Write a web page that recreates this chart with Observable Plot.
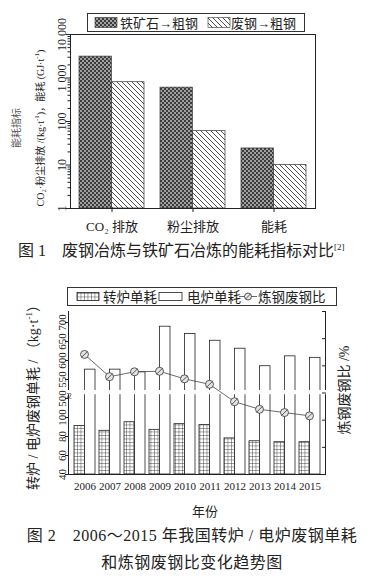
<!DOCTYPE html>
<html><head><meta charset="utf-8">
<script src="https://cdn.jsdelivr.net/npm/d3@7"></script>
<script src="https://cdn.jsdelivr.net/npm/@observablehq/plot@0.6"></script>
<style>
body{margin:0;background:#fff;}
#root{position:relative;width:384px;height:588px;overflow:hidden;font-family:"Liberation Serif","Noto Sans CJK SC",serif;color:#222;}
#root > svg, #root > div{position:absolute;}
.rot{transform:translate(-50%,-50%) rotate(-90deg);white-space:nowrap;}
</style></head><body>
<svg width="0" height="0" style="position:absolute">
<defs>
<pattern id="ore" width="4" height="4" patternUnits="userSpaceOnUse">
 <rect width="4" height="4" fill="#a0a0a0"/>
 <rect width="2" height="2" fill="#3c3c3c"/>
 <rect x="2" y="2" width="2" height="2" fill="#3c3c3c"/>
</pattern>
<pattern id="hatch" width="5" height="5" patternUnits="userSpaceOnUse">
 <rect width="5" height="5" fill="#fff"/>
 <path d="M-1,-1 L6,6 M-1,4 L1,6 M4,-1 L6,1" stroke="#222" stroke-width="0.8"/>
</pattern>
<pattern id="grid" width="3.5" height="3.5" patternUnits="userSpaceOnUse">
 <rect width="3.5" height="3.5" fill="#fff"/>
 <path d="M0,0 H3.5 M0,0 V3.5" stroke="#222" stroke-width="0.8"/>
</pattern>
</defs></svg>
<div id="root"></div>
<script>
// ---------- Figure 1 data ----------
const indicators = ["CO₂ 排放", "粉尘排放", "能耗"];
const oreToSteel = [3100, 600, 24];
const scrapToSteel = [800, 60, 10];
const logTicks = [1, 10, 100, 1000, 10000];
const logTickLabels = ["1", "10", "100", "1 000", "10 000"];
const seriesNames1 = ["铁矿石→粗钢", "废钢→粗钢"];

// ---------- Figure 2 data ----------
const years = ["2006","2007","2008","2009","2010","2011","2012","2013","2014","2015"];
const bofConsumption = [91, 86, 95, 87, 93, 92, 78, 75, 74, 74];
const eafConsumption = [576, 576, 569, 689, 670, 652, 631, 585, 611, 607];
const scrapRatio = [22.1, 18.0, 18.9, 19.0, 17.6, 16.6, 13.4, 12.0, 11.4, 10.8];
const leftTicks = [40, 60, 80, 100, 500, 550, 600, 650, 700];
const rightTicks = [0, 5, 10, 15, 20, 25, 30];
const seriesNames2 = ["转炉单耗", "电炉单耗", "炼钢废钢比"];

const FONT = '"Liberation Serif","Noto Sans CJK SC",serif';
const root = document.getElementById("root");
function place(el, left, top) { el.style.left = left + "px"; el.style.top = top + "px"; root.appendChild(el); return el; }

// ---------- Figure 1 ----------
const W1 = 384, mL1 = 70, mR1 = 69;
const pi1 = 0.2, po1 = 0.1;
const bw1 = (W1 - mL1 - mR1) / (3 - pi1 + 2 * po1) * (1 - pi1);
const minorTicks = [];
for (const k of [1, 10, 100, 1000]) for (let m = 2; m <= 9; m++) minorTicks.push(m * k);
const idx1 = d3.range(indicators.length);

const p1 = Plot.plot({
  width: W1, height: 240, marginLeft: mL1, marginRight: mR1, marginTop: 34, marginBottom: 32,
  style: {fontFamily: FONT, fontSize: "13px", color: "#222", background: "transparent", overflow: "visible"},
  x: {domain: indicators, paddingInner: pi1, paddingOuter: po1, axis: null},
  y: {type: "log", domain: [1, 10000], axis: null},
  marks: [
    Plot.barY(idx1, {x: i => indicators[i], y1: 1, y2: i => oreToSteel[i], fill: "url(#ore)", stroke: "#333", strokeWidth: 0.7, insetRight: bw1 / 2}),
    Plot.barY(idx1, {x: i => indicators[i], y1: 1, y2: i => scrapToSteel[i], fill: "url(#hatch)", stroke: "#333", strokeWidth: 0.7, insetLeft: bw1 / 2}),
    Plot.frame({stroke: "#222"}),
    Plot.axisX({tickSize: 4, tickPadding: 9, fontSize: 13, label: null}),
    Plot.axisY({ticks: minorTicks, tickSize: 2.5, tickFormat: () => "", label: null}),
    Plot.axisY({ticks: logTicks, tickSize: 4.5, tickPadding: 0, tickRotate: -90, fontSize: 12,
      tickFormat: d => logTickLabels[logTicks.indexOf(d)], label: null})
  ]
});
place(p1, 0, 0);

// legend 1
const lg1 = document.createElementNS("http://www.w3.org/2000/svg", "svg");
lg1.setAttribute("width", 384); lg1.setAttribute("height", 34);
lg1.innerHTML = `
 <rect x="87.5" y="13.5" width="217" height="18" fill="#fff" stroke="#333"/>
 <rect x="95" y="17.5" width="22" height="10" fill="url(#ore)" stroke="#333" stroke-width="0.6"/>
 <text x="120" y="27.5" font-size="13" fill="#222" font-family='${FONT}'>${seriesNames1[0]}</text>
 <rect x="208" y="17.5" width="22" height="10" fill="url(#hatch)" stroke="#333" stroke-width="0.6"/>
 <text x="231" y="27.5" font-size="13" fill="#222" font-family='${FONT}'>${seriesNames1[1]}</text>`;
place(lg1, 0, 0);

// y titles fig 1
const t1a = document.createElement("div"); t1a.className = "rot";
t1a.style.fontSize = "10px"; t1a.style.color = "#555"; t1a.textContent = "能耗指标";
place(t1a, 15, 128);
const t1b = document.createElement("div"); t1b.className = "rot";
t1b.style.fontSize = "10px"; t1b.innerHTML = "CO₂·粉尘排放 /(kg·t<sup style='font-size:7px'>-1</sup>)，能耗 (GJ·t<sup style='font-size:7px'>-1</sup>)";
place(t1b, 39, 128);

// caption 1
const c1 = document.createElement("div");
c1.style.fontSize = "16px"; c1.style.whiteSpace = "nowrap"; c1.style.lineHeight = "20px";
c1.innerHTML = "图 1　废钢冶炼与铁矿石冶炼的能耗指标对比<sup style='font-size:9px'>[2]</sup>";
place(c1, 18, 237);

// ---------- Figure 2 ----------
const W2 = 384, mL2 = 68, mR2 = 59, mT2 = 51, mB2 = 26, H2 = 240;
const pi2 = 0.18, po2 = 0.1;
const bw2 = (W2 - mL2 - mR2) / (years.length - pi2 + 2 * po2) * (1 - pi2);
const idx2 = d3.range(years.length);
// broken left axis: ticks evenly spaced, 40..100 below the break, 500..700 above
const brk = d3.scaleLinear().domain([40, 100, 500, 700]).range([0, 3, 4, 8]);
const yTop = 8.58; // axis extends a little above the 700 tick

const p2 = Plot.plot({
  width: W2, height: H2, marginLeft: mL2, marginRight: mR2, marginTop: mT2, marginBottom: mB2,
  style: {fontFamily: FONT, fontSize: "12px", color: "#222", background: "transparent", overflow: "visible"},
  x: {domain: years, paddingInner: pi2, paddingOuter: po2, axis: null},
  y: {domain: [brk(40), yTop], axis: null},
  marks: [
    Plot.barY(idx2, {x: i => years[i], y1: brk(40), y2: i => brk(bofConsumption[i]), fill: "url(#grid)", stroke: "#222", strokeWidth: 0.8, insetRight: bw2 / 2}),
    Plot.barY(idx2, {x: i => years[i], y1: brk(40), y2: i => brk(eafConsumption[i]), fill: "#fff", stroke: "#222", strokeWidth: 0.8, insetLeft: bw2 / 2}),
    Plot.frame({anchor: "left", stroke: "#222"}),
    Plot.frame({anchor: "right", stroke: "#222"}),
    Plot.frame({anchor: "bottom", stroke: "#222"}),
    Plot.rect([0], {y1: brk(510), y2: brk(521), fill: "#fff", insetLeft: -5, insetRight: -5}),
    Plot.text(["≈"], {y: brk(515), frameAnchor: "left", rotate: 90, fontSize: 12, fill: "#333"}),
    Plot.axisY({ticks: leftTicks.map(v => brk(v)), tickSize: 3, tickPadding: 0, tickRotate: -90, fontSize: 11,
      tickFormat: (d, i) => String(leftTicks[i]), label: null}),
    Plot.axisX({tickSize: 0, tickPadding: 8, fontSize: 11, label: null})
  ]
});
place(p2, 0, 260);

const slashCircle = {
  draw(ctx, size) {
    const r = Math.sqrt(size / Math.PI);
    ctx.moveTo(r, 0); ctx.arc(0, 0, r, 0, 2 * Math.PI);
    ctx.moveTo(-r * 0.7, r * 0.7); ctx.lineTo(r * 0.7, -r * 0.7);
  }
};

const p3 = Plot.plot({
  width: W2, height: H2, marginLeft: mL2, marginRight: mR2, marginTop: mT2, marginBottom: mB2,
  style: {fontFamily: FONT, fontSize: "12px", color: "#222", background: "transparent", overflow: "visible"},
  x: {domain: years, paddingInner: pi2, paddingOuter: po2, axis: null},
  y: {domain: [0, 30], axis: null},
  marks: [
    Plot.line(idx2, {x: i => years[i], y: i => scrapRatio[i], stroke: "#444", strokeWidth: 0.8}),
    Plot.dot(idx2, {x: i => years[i], y: i => scrapRatio[i], r: 4, symbol: slashCircle, fill: "#e4e4e4", stroke: "#333", strokeWidth: 0.8}),
    Plot.axisY({anchor: "right", ticks: rightTicks, tickSize: 4, dx: -4, tickFormat: () => "", label: null})
  ]
});
place(p3, 0, 260);

// legend 2
const lg2 = document.createElementNS("http://www.w3.org/2000/svg", "svg");
lg2.setAttribute("width", 384); lg2.setAttribute("height", 30);
lg2.innerHTML = `
 <rect x="67.5" y="1.5" width="269" height="18" fill="#fff" stroke="#333"/>
 <rect x="77" y="6.5" width="22" height="8" fill="url(#grid)" stroke="#222" stroke-width="0.8"/>
 <text x="103" y="15.5" font-size="13.5" fill="#222" font-family='${FONT}'>${seriesNames2[0]}</text>
 <rect x="159" y="6.5" width="23" height="8" fill="#fff" stroke="#222" stroke-width="0.8"/>
 <text x="187" y="15.5" font-size="13.5" fill="#222" font-family='${FONT}'>${seriesNames2[1]}</text>
 <line x1="239" x2="257" y1="10.5" y2="10.5" stroke="#444" stroke-width="0.8"/>
 <circle cx="248" cy="10.5" r="3.5" fill="#e4e4e4" stroke="#333" stroke-width="0.8"/>
 <line x1="245.5" y1="13" x2="250.5" y2="8" stroke="#333" stroke-width="0.8"/>
 <text x="258" y="15.5" font-size="13.5" fill="#222" font-family='${FONT}'>${seriesNames2[2]}</text>`;
place(lg2, 0, 286);

// axis titles fig 2
const t2l = document.createElement("div"); t2l.className = "rot";
t2l.style.fontSize = "14px"; t2l.innerHTML = "转炉 / 电炉废钢单耗 / （kg·t<sup style='font-size:9px'>-1</sup>）";
place(t2l, 32, 394);
const t2r = document.createElement("div"); t2r.className = "rot";
t2r.style.fontSize = "14px"; t2r.textContent = "炼钢废钢比 /%";
place(t2r, 343, 390);

const xl = document.createElement("div");
xl.style.fontSize = "13px"; xl.style.transform = "translate(-50%,-50%)"; xl.textContent = "年份";
place(xl, 205, 510);

const c2 = document.createElement("div");
c2.style.fontSize = "16px"; c2.style.width = "384px"; c2.style.textAlign = "center"; c2.style.lineHeight = "27px"; c2.style.letterSpacing = "0.5px";
c2.innerHTML = "图 2　2006～2015 年我国转炉 / 电炉废钢单耗<br>和炼钢废钢比变化趋势图";
place(c2, 0, 522);
</script>
</body></html>
